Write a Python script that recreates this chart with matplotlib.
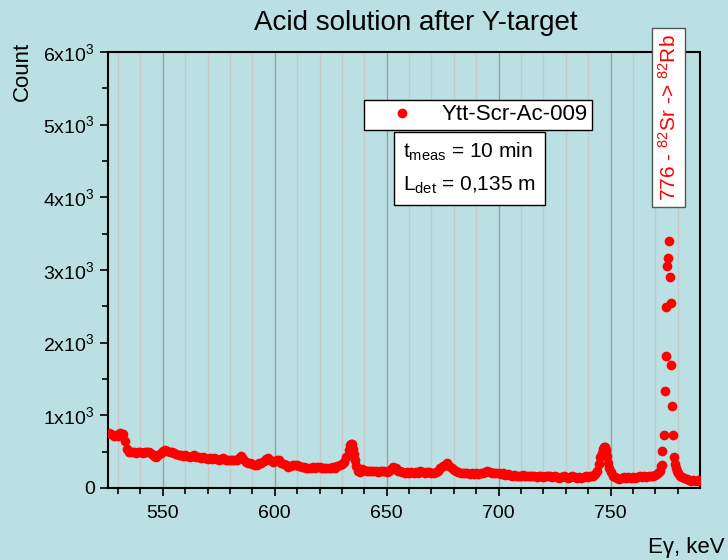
import matplotlib
matplotlib.use("Agg")
import matplotlib.pyplot as plt
from matplotlib.ticker import MultipleLocator, FixedLocator, FuncFormatter

plt.rcParams['font.family'] = ['Liberation Sans', 'DejaVu Sans']
plt.rcParams['mathtext.fontset'] = 'custom'
plt.rcParams['mathtext.rm'] = 'Liberation Sans'
plt.rcParams['mathtext.it'] = 'Liberation Sans:italic'

bg = '#BAE0E3'

# spectrum (keV, counts)
energy = [526, 527, 528, 529, 530, 531, 532, 533, 534, 535, 536, 537, 538, 539, 540,
          541, 542, 543, 544, 545, 546, 547, 548, 549, 550, 551, 552, 553, 554, 555,
          556, 557, 558, 559, 560, 561, 562, 563, 564, 565, 566, 567, 568, 569, 570,
          571, 572, 573, 574, 575, 576, 577, 578, 579, 580, 581, 582, 583, 584, 585,
          586, 587, 588, 589, 590, 591, 592, 593, 594, 595, 596, 597, 598, 599, 600,
          601, 602, 603, 604, 605, 606, 607, 608, 609, 610, 611, 612, 613, 614, 615,
          616, 617, 618, 619, 620, 621, 622, 623, 624, 625, 626, 627, 628, 629, 630,
          631, 632, 633, 633.5, 634, 634.5, 635, 635.5, 636, 636.5, 637, 638, 639, 640,
          641, 642, 643, 644, 645, 646, 647, 648, 649, 650, 651, 652, 653, 654, 655,
          656, 657, 658, 659, 660, 661, 662, 663, 664, 665, 666, 667, 668, 669, 670,
          671, 672, 673, 674, 675, 676, 677, 678, 679, 680, 681, 682, 683, 684, 685,
          686, 687, 688, 689, 690, 691, 692, 693, 694, 695, 696, 697, 698, 699, 700,
          701, 702, 703, 704, 705, 706, 707, 708, 709, 710, 711, 712, 713, 714, 715,
          716, 717, 718, 719, 720, 721, 722, 723, 724, 725, 726, 727, 728, 729, 730,
          731, 732, 733, 734, 735, 736, 737, 738, 739, 740, 741, 742, 743, 744, 745,
          745.5, 746, 746.5, 747, 747.5, 748, 748.5, 749, 749.5, 750, 751, 752, 753, 754,
          755, 756, 757, 758, 759, 760, 761, 762, 763, 764, 765, 766, 767, 768, 769,
          770, 771, 772, 772.5, 772.9, 773.2, 773.8, 774.2, 774.6, 774.9, 775.2, 775.7,
          776.1, 776.4, 776.9, 777.2, 777.6, 778.0, 778.4, 778.8, 779.2, 779.6, 780,
          781, 782, 783, 784, 785, 786, 787, 788, 789, 790]
counts = [760, 740, 720, 730, 720, 750, 740, 640, 540, 500, 490, 500, 480, 490, 500,
          480, 490, 500, 490, 470, 440, 430, 450, 480, 510, 520, 510, 500, 490, 480,
          470, 460, 450, 440, 450, 440, 430, 440, 450, 430, 420, 410, 420, 410, 400,
          410, 400, 410, 400, 390, 400, 410, 390, 380, 380, 390, 380, 390, 410, 440,
          400, 360, 350, 340, 330, 310, 320, 340, 350, 370, 400, 410, 380, 360, 370,
          390, 380, 350, 330, 310, 290, 300, 310, 320, 310, 300, 290, 290, 280, 270,
          280, 290, 280, 290, 290, 280, 270, 280, 270, 280, 290, 280, 300, 310, 330,
          360, 420, 520, 590, 610, 600, 540, 470, 380, 300, 240, 220, 260, 250,
          240, 230, 230, 240, 230, 220, 230, 240, 230, 220, 240, 260, 290, 280, 240,
          230, 220, 210, 220, 210, 220, 210, 220, 210, 230, 220, 210, 220, 220, 200,
          210, 220, 240, 270, 300, 320, 340, 300, 270, 250, 240, 220, 210, 200, 210,
          200, 190, 200, 190, 200, 190, 200, 210, 220, 230, 220, 210, 200, 210, 200,
          190, 200, 180, 190, 180, 170, 180, 170, 160, 170, 180, 160, 170, 160, 170,
          160, 150, 160, 170, 150, 160, 170, 160, 150, 160, 150, 140, 150, 160, 150,
          140, 150, 160, 150, 140, 150, 140, 150, 160, 150, 160, 170, 190, 230, 330,
          420, 480, 540, 570, 560, 520, 440, 350, 280, 220, 170, 150, 140, 130,
          140, 150, 140, 150, 140, 150, 140, 150, 160, 150, 160, 150, 160, 170, 160,
          180, 200, 240, 300, 320, 510, 730, 1340, 1820, 2490, 3060, 3170,
          3400, 2900, 2550, 1690, 1130, 730, 430, 330, 270, 230, 200,
          170, 150, 140, 120, 110, 100, 110, 100, 110, 100]

x_major = [550, 600, 650, 700, 750]
x_minor = [530, 540, 560, 570, 580, 590, 610, 620, 630, 640, 660, 670, 680, 690,
           710, 720, 730, 740, 760, 770, 780]
y_ticks = [0, 1000, 2000, 3000, 4000, 5000, 6000]

fig = plt.figure(figsize=(7.28, 5.6), dpi=100, facecolor=bg)
ax = fig.add_axes([0.1484, 0.1286, 0.8132, 0.7786], facecolor=bg)

for xv in x_minor:
    ax.axvline(xv, color='#c6c9c9', lw=1.0, zorder=0)
for xv in x_major:
    ax.axvline(xv, color='#9a9e9f', lw=1.0, zorder=0)

ax.plot(energy, counts, 'o', color='red', ms=7, mec='red', mew=0,
        label='Ytt-Scr-Ac-009', zorder=3)

ax.set_xlim(525.5, 790)
ax.set_ylim(0, 6000)
ax.xaxis.set_major_locator(FixedLocator(x_major))
ax.xaxis.set_minor_locator(FixedLocator(x_minor))
ax.yaxis.set_major_locator(FixedLocator(y_ticks))
ax.yaxis.set_minor_locator(MultipleLocator(500))


def yfmt(v, pos):
    if v == 0:
        return '0'
    return r'$\mathregular{%dx10^3}$' % int(v / 1000)


ax.yaxis.set_major_formatter(FuncFormatter(yfmt))
ax.tick_params(axis='both', which='major', direction='out', length=6, width=1.2,
               labelsize=14, color='black')
ax.tick_params(axis='both', which='minor', direction='out', length=4, width=1.2)
ax.tick_params(axis='x', pad=6)
for s in ax.spines.values():
    s.set_linewidth(1.5)
    s.set_color('black')

fig.text(0.031, 0.873, 'Count', rotation=90, ha='center', va='center', fontsize=16)
fig.text(0.996, 0.023, 'Eγ, keV', ha='right', va='center', fontsize=16)
fig.text(416 / 728, 1 - 23 / 560, 'Acid solution after Y-target', ha='center',
         va='center', fontsize=20)

leg = ax.legend(loc='upper left', bbox_to_anchor=(0.4324, 0.8899), fontsize=16,
                frameon=True, fancybox=False, numpoints=1, markerscale=1.0,
                borderpad=0.2, handlelength=3.0, handletextpad=0.3, borderaxespad=0)
leg.get_frame().set_edgecolor('black')
leg.get_frame().set_linewidth(1.0)
leg.get_frame().set_facecolor('white')
leg.get_frame().set_alpha(1)

ax.text(0.4983, 0.7959, '$\\mathregular{t_{meas}}$ = 10 min\n$\\mathregular{L_{det}}$ = 0,135 m',
        transform=ax.transAxes, ha='left', va='top', fontsize=15, linespacing=1.7,
        bbox=dict(boxstyle='square,pad=0.45', facecolor='white', edgecolor='black', lw=1.0),
        zorder=5)

fig.text(668.5 / 728, 1 - 117.5 / 560,
         r'776 - $\mathregular{^{82}}$Sr -> $\mathregular{^{82}}$Rb',
         rotation=90, ha='center', va='center', fontsize=15, color='red',
         bbox=dict(boxstyle='square,pad=0.28', facecolor='white', edgecolor='#555555', lw=1.0),
         zorder=6)

fig.savefig('out.png', dpi=100, facecolor=bg)
